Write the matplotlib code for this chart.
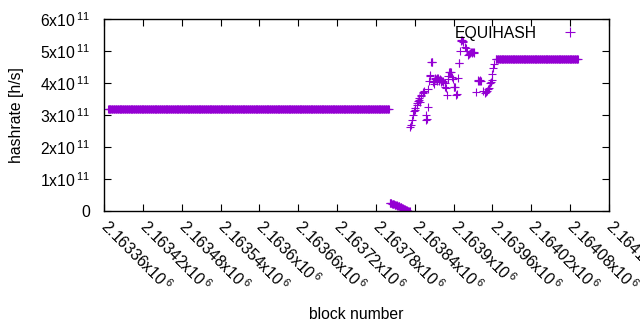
import numpy as np
import matplotlib
matplotlib.use("Agg")
import matplotlib.pyplot as plt

plt.rcParams['font.family'] = ['Liberation Sans', 'DejaVu Sans']
plt.rcParams['mathtext.fontset'] = 'custom'
plt.rcParams['mathtext.rm'] = 'Liberation Sans'
FS = 11.3
COLOR = '#9400D3'

# Flat segments: (start block, end block, hashrate)
flat1_start, flat1_end, flat1_value = 2163366, 2163800, 3.18e11
flat2_start, flat2_end, flat2_value = 2163965, 2164092, 4.75e11

# Declining segment near zero
decline_start = 2163801
decline_values = [2.5e10, 2.45e10, 2.4e10, 2.35e10, 2.3e10, 2.25e10, 2.2e10, 2.1e10,
                  2.0e10, 1.95e10, 1.9e10, 1.8e10, 1.7e10, 1.6e10, 1.5e10, 1.45e10,
                  1.35e10, 1.25e10, 1.15e10, 1.05e10, 0.95e10, 0.85e10, 0.75e10, 0.65e10,
                  0.55e10, 0.45e10, 0.35e10, 0.25e10, 0.15e10, 0.08e10, 0.03e10, 0.0]

# Scattered points in the transition region
scatter_blocks = [2163833, 2163834, 2163836, 2163838, 2163839, 2163840, 2163841, 2163843,
                  2163844, 2163845, 2163846, 2163847, 2163848, 2163849, 2163850, 2163852,
                  2163853, 2163854, 2163857, 2163858, 2163859, 2163860, 2163861, 2163862,
                  2163863, 2163864, 2163865, 2163866, 2163867, 2163868, 2163869, 2163870,
                  2163871, 2163872, 2163873, 2163874, 2163875, 2163876, 2163877, 2163878,
                  2163879, 2163880, 2163881, 2163882, 2163883, 2163884, 2163886, 2163887,
                  2163888, 2163890, 2163891, 2163892, 2163893, 2163894, 2163895, 2163896,
                  2163897, 2163899, 2163900, 2163901, 2163902, 2163904, 2163905, 2163906,
                  2163908, 2163909, 2163910, 2163911, 2163912, 2163913, 2163914, 2163915,
                  2163917, 2163919, 2163920, 2163922, 2163924, 2163925, 2163927, 2163928,
                  2163929, 2163930, 2163931, 2163932, 2163935, 2163937, 2163938, 2163939,
                  2163940, 2163941, 2163943, 2163946, 2163948, 2163950, 2163951, 2163953,
                  2163955, 2163956, 2163958, 2163959, 2163960, 2163961, 2163963]
scatter_values = [2.63e11, 2.69e11, 2.84e11, 3.00e11, 3.11e11, 3.16e11, 3.22e11, 3.32e11,
                  3.37e11, 3.45e11, 3.47e11, 3.53e11, 3.42e11, 3.58e11, 3.63e11, 3.69e11,
                  3.73e11, 3.74e11, 2.84e11, 3.00e11, 2.88e11, 3.24e11, 3.80e11, 4.06e11,
                  4.22e11, 4.25e11, 4.66e11, 4.67e11, 4.65e11, 4.04e11, 3.98e11, 4.06e11,
                  4.11e11, 4.15e11, 4.11e11, 4.06e11, 4.17e11, 4.15e11, 4.10e11, 4.06e11,
                  4.11e11, 4.08e11, 4.04e11, 4.06e11, 4.04e11, 4.06e11, 4.01e11, 3.88e11,
                  3.83e11, 3.64e11, 4.11e11, 4.22e11, 4.35e11, 4.33e11, 4.35e11, 4.33e11,
                  4.19e11, 4.11e11, 3.88e11, 3.87e11, 3.88e11, 3.61e11, 3.66e11, 4.17e11,
                  4.61e11, 4.61e11, 5.01e11, 5.33e11, 5.32e11, 5.33e11, 5.32e11, 5.27e11,
                  5.12e11, 5.08e11, 5.01e11, 4.87e11, 4.90e11, 4.95e11, 4.96e11, 4.95e11,
                  4.96e11, 4.96e11, 4.95e11, 4.96e11, 3.72e11, 4.06e11, 4.09e11, 4.06e11,
                  4.09e11, 4.06e11, 4.06e11, 3.75e11, 3.69e11, 3.73e11, 3.74e11, 3.80e11,
                  3.83e11, 4.01e11, 4.04e11, 4.08e11, 4.27e11, 4.48e11, 4.59e11]

xticks = [2163360, 2163420, 2163480, 2163540, 2163600, 2163660, 2163720, 2163780,
          2163840, 2163900, 2163960, 2164020, 2164080, 2164140]
xtick_labels = ['2.16336', '2.16342', '2.16348', '2.16354', '2.1636', '2.16366', '2.16372',
                '2.16378', '2.16384', '2.1639', '2.16396', '2.16402', '2.16408', '2.16414']
yticks = [0, 1e11, 2e11, 3e11, 4e11, 5e11, 6e11]
ytick_labels = ['0', '1', '2', '3', '4', '5', '6']

blocks = np.concatenate([
    np.arange(flat1_start, flat1_end + 1),
    decline_start + np.arange(len(decline_values)),
    np.array(scatter_blocks),
    np.arange(flat2_start, flat2_end + 1),
])
values = np.concatenate([
    np.full(flat1_end - flat1_start + 1, flat1_value),
    np.array(decline_values),
    np.array(scatter_values),
    np.full(flat2_end - flat2_start + 1, flat2_value),
])

fig = plt.figure(figsize=(6.4, 3.3), dpi=100)
ax = fig.add_axes([104/640, 1 - 211/330, 505/640, 192/330])
ax.plot(blocks, values, linestyle='none', marker='+', markersize=5.5,
        markeredgewidth=0.8, color=COLOR, label='EQUIHASH')

ax.set_xlim(2163360, 2164140)
ax.set_ylim(0, 6e11)
ax.set_xticks(xticks)
ax.set_xticklabels([r'$\mathregular{%sx10^{\,6}}$' % t for t in xtick_labels],
                   rotation=-45, ha='left', va='center', rotation_mode='anchor', fontsize=FS)
ax.set_yticks(yticks)
ax.set_yticklabels([('0' if t == '0' else r'$\mathregular{%sx10^{\,11}}$' % t) for t in ytick_labels],
                   fontsize=FS)
ax.tick_params(axis='both', direction='in', top=True, right=True, length=5, width=0.8,
               colors='black')
ax.tick_params(axis='x', pad=9)
ax.tick_params(axis='y', pad=10)
for s in ax.spines.values():
    s.set_linewidth(1.0)

ax.set_xlabel('block number', fontsize=FS)
ax.xaxis.set_label_coords(0.5, -0.5)
ax.set_ylabel('hashrate [h/s]', fontsize=FS)
ax.yaxis.set_label_coords(-0.158, 0.5)

ax.legend(loc='upper right', bbox_to_anchor=(0.9684, 0.964), markerfirst=False,
          frameon=False, fontsize=FS, handlelength=3, handletextpad=0.6,
          borderpad=0, borderaxespad=0, markerscale=1.2)

fig.savefig('out.png', dpi=100)
